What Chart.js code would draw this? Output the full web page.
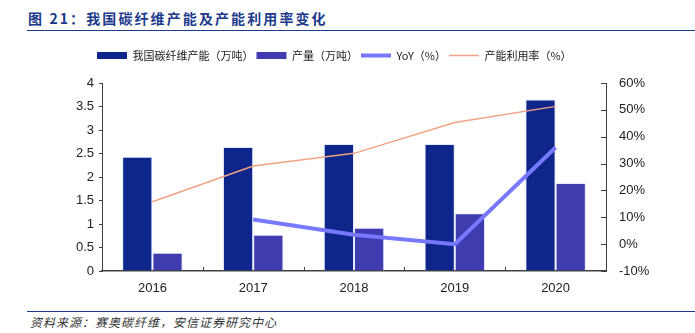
<!DOCTYPE html>
<html>
<head>
<meta charset="utf-8">
<script src="https://cdn.jsdelivr.net/npm/chart.js@4"></script>
<style>
  body { margin: 0; background: #fff; width: 695px; height: 333px; position: relative; overflow: hidden; }
  #title {
    position: absolute; left: 28px; top: 8px;
    font: bold 14px "Noto Sans CJK SC", sans-serif; letter-spacing: 2.1px;
    color: #1c3a8c;
  }
  #titleLine { position: absolute; left: 27px; right: 0; top: 30px; height: 0; border-top: 1.5px solid #1c3a8c; }
  #srcLine { position: absolute; left: 27px; right: 0; top: 311px; height: 0; border-top: 1.5px solid #1c3a8c; }
  #source {
    position: absolute; left: 30px; top: 313px;
    font: italic 12px "Noto Sans CJK SC", sans-serif; color: #333; letter-spacing: 1px;
  }
  #wrap { position: absolute; left: 0; top: 35px; }
</style>
</head>
<body>
<div id="title">图 21：我国碳纤维产能及产能利用率变化</div>
<div id="titleLine"></div>
<div id="wrap"><canvas id="myChart" width="695" height="272"></canvas></div>
<div id="srcLine"></div>
<div id="source">资料来源：赛奥碳纤维，安信证券研究中心</div>
<script>
// data
const years = ['2016', '2017', '2018', '2019', '2020'];
const capacity = [2.43, 2.64, 2.70, 2.70, 3.65];     // 我国碳纤维产能（万吨）
const production = [0.39, 0.77, 0.92, 1.23, 1.87];   // 产量（万吨）
const yoy = [null, 9.2, 3.5, 0, 36];                  // YoY（%）
const utilization = [15.8, 29.1, 33.8, 45.3, 51.3];   // 产能利用率（%）

const tickFont = { family: 'Liberation Sans', size: 13 };
const axisColor = '#404040';

// inward tick marks for the right and bottom axes
const innerTicks = {
  id: 'innerTicks',
  afterDraw(chart) {
    const { ctx, chartArea, scales } = chart;
    ctx.save();
    ctx.strokeStyle = axisColor;
    ctx.lineWidth = 1;
    const y1 = scales.y1;
    y1.ticks.forEach((t, i) => {
      const y = Math.round(y1.getPixelForTick(i)) + 0.5;
      ctx.beginPath();
      ctx.moveTo(chartArea.right - 5, y);
      ctx.lineTo(chartArea.right, y);
      ctx.stroke();
    });
    const x = scales.x;
    const half = (x.getPixelForValue(1) - x.getPixelForValue(0)) / 2;
    for (let i = 0; i <= years.length; i++) {
      const px = Math.round(x.getPixelForValue(i) - half) + 0.5;
      ctx.beginPath();
      ctx.moveTo(px, chartArea.bottom);
      ctx.lineTo(px, chartArea.bottom - 4);
      ctx.stroke();
    }
    ctx.restore();
  }
};

// put the legend where the original has it (left of centre, a bit higher)
const legendPos = {
  id: 'legendPos',
  afterLayout(chart) {
    chart.legend.left = 94;
    chart.legend.top = 12;
  }
};

const config = {
  type: 'bar',
  data: {
    labels: years,
    datasets: [
      {
        label: '我国碳纤维产能（万吨）',
        data: capacity,
        backgroundColor: '#0e268c',
        borderColor: 'rgba(200,210,255,0.5)',
        borderWidth: 1,
        yAxisID: 'y',
        order: 2
      },
      {
        label: '产量（万吨）',
        data: production,
        backgroundColor: '#403cb0',
        borderColor: 'rgba(200,210,255,0.5)',
        borderWidth: 1,
        yAxisID: 'y',
        order: 2
      },
      {
        type: 'line',
        label: 'YoY（%）',
        data: yoy,
        borderColor: '#7878ff',
        backgroundColor: '#7878ff',
        borderWidth: 4,
        pointRadius: 0,
        yAxisID: 'y1',
        order: 1
      },
      {
        type: 'line',
        label: '产能利用率（%）',
        data: utilization,
        borderColor: '#f2a283',
        backgroundColor: '#f2a283',
        borderWidth: 1.5,
        pointRadius: 0,
        yAxisID: 'y1',
        order: 0
      }
    ]
  },
  options: {
    responsive: false,
    animation: false,
    layout: { padding: { left: 0, right: 0, top: 24, bottom: 0 } },
    datasets: {
      bar: { categoryPercentage: 0.6, barPercentage: 1.0 }
    },
    plugins: {
      tooltip: { enabled: false },
      legend: {
        position: 'top',
        align: 'start',
        labels: {
          usePointStyle: true,
          pointStyleWidth: 30,
          boxHeight: 7,
          padding: 3,
          color: '#222',
          font: { family: 'Noto Sans CJK SC', size: 11 },
          sort: (a, b) => a.datasetIndex - b.datasetIndex,
          generateLabels(chart) {
            return chart.data.datasets.map((ds, i) => ({
              text: ds.label,
              datasetIndex: i,
              fillStyle: ds.backgroundColor,
              strokeStyle: ds.type === 'line' ? ds.borderColor : ds.backgroundColor,
              lineWidth: ds.type === 'line' ? (i === 2 ? 4 : 1.5) : 0,
              pointStyle: ds.type === 'line' ? 'line' : 'rect',
              fontColor: '#222',
              hidden: false
            }));
          }
        }
      }
    },
    scales: {
      x: {
        grid: { display: false, drawTicks: false },
        border: { color: axisColor, width: 1.5 },
        ticks: { font: tickFont, color: '#222', padding: 10 },
        afterFit(scale) { scale.height = 36; }
      },
      y: {
        position: 'left',
        min: 0, max: 4,
        grid: { drawOnChartArea: false, tickLength: 3, color: axisColor },
        border: { color: axisColor, width: 1 },
        ticks: { stepSize: 0.5, font: tickFont, color: '#222', padding: 5,
                 callback: v => String(v) },
        afterFit(scale) { scale.width = 102; }
      },
      y1: {
        position: 'right',
        min: -10, max: 60,
        grid: { drawOnChartArea: false, drawTicks: false },
        border: { color: axisColor, width: 1 },
        ticks: { stepSize: 10, font: tickFont, color: '#222', padding: 13,
                 callback: v => v + '%' },
        afterFit(scale) { scale.width = 89; }
      }
    }
  },
  plugins: [innerTicks, legendPos]
};

const myChart = new Chart(document.getElementById('myChart'), config);
</script>
</body>
</html>
